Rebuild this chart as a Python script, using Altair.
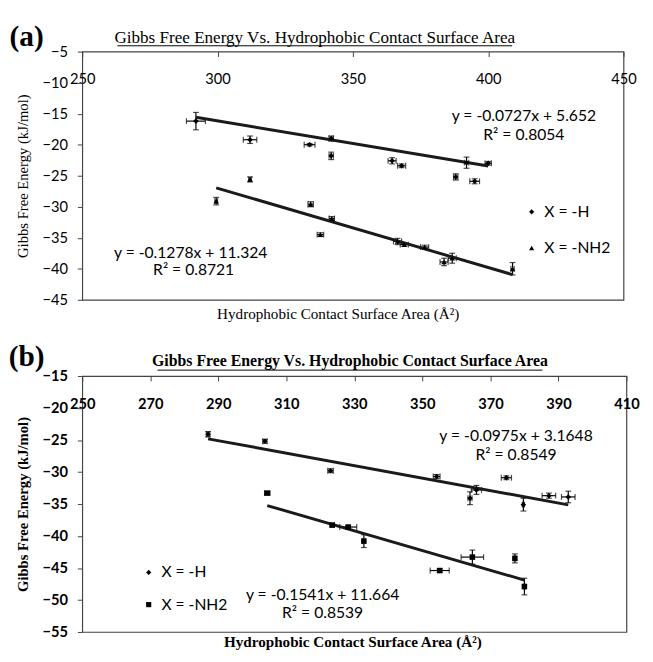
import altair as alt
import pandas as pd

SERIES = ["X = -H", "X = -NH2"]

# ---------------- panel (a) ----------------
a_h_x = [292, 312, 334, 342, 342, 364.5, 368, 392, 388, 400, 395]
a_h_y = [-16.2, -19.2, -20.0, -19.0, -21.8, -22.6, -23.4, -22.9, -25.2, -23.0, -25.9]
a_h_xerr = [3.5, 2.5, 2.0, 0.8, 0.8, 1.5, 1.5, 0.8, 0.8, 1.2, 1.8]
a_h_yerr = [1.4, 0.6, 0.2, 0.4, 0.6, 0.5, 0.3, 0.9, 0.5, 0.3, 0.4]

a_n_x = [299.5, 312, 334.4, 338, 342.2, 366.5, 369, 376.5, 383.7, 386.7, 409]
a_n_y = [-29.1, -25.6, -29.6, -34.5, -31.9, -35.6, -36.1, -36.5, -38.9, -38.3, -40.0]
a_n_xerr = [0.5, 0.5, 1.0, 1.2, 1.0, 1.5, 1.5, 1.5, 1.5, 1.5, 0.6]
a_n_yerr = [0.6, 0.4, 0.4, 0.3, 0.3, 0.5, 0.3, 0.3, 0.6, 0.8, 1.0]

a_slopes = [-0.0727, -0.1278]
a_intercepts = [5.652, 11.324]
a_eq = ["y = -0.0727x + 5.652", "y = -0.1278x + 11.324"]
a_r2 = ["R² = 0.8054", "R² = 0.8721"]
a_xticks = [250, 300, 350, 400, 450]
a_yticks = [-45, -40, -35, -30, -25, -20, -15, -10, -5]

# ---------------- panel (b) ----------------
b_h_x = [287, 303.7, 323, 354.2, 364, 365.9, 374.7, 379.7, 387.2, 392.9]
b_h_y = [-24.1, -25.2, -29.8, -30.7, -34.1, -32.8, -30.9, -35.1, -33.7, -33.9]
b_h_xerr = [0.5, 0.6, 0.8, 1.0, 0.6, 1.5, 1.5, 0.3, 2.0, 2.0]
b_h_yerr = [0.4, 0.3, 0.3, 0.3, 1.0, 0.7, 0.3, 1.0, 0.4, 0.9]

b_n_x = [304.4, 323.5, 328.2, 332.8, 355.1, 364.7, 377.2, 380]
b_n_y = [-33.3, -38.3, -38.6, -40.8, -45.4, -43.3, -43.5, -47.9]
b_n_xerr = [0.8, 0.6, 2.5, 0.4, 2.8, 3.3, 0.3, 0.3]
b_n_yerr = [0.2, 0.2, 0.2, 1.0, 0.3, 1.1, 0.7, 1.3]

b_slopes = [-0.0975, -0.1541]
b_intercepts = [3.1648, 11.664]
b_eq = ["y = -0.0975x + 3.1648", "y = -0.1541x + 11.664"]
b_r2 = ["R² = 0.8549", "R² = 0.8539"]
b_xticks = [250, 270, 290, 310, 330, 350, 370, 390, 410]
b_yticks = [-55, -50, -45, -40, -35, -30, -25, -20, -15]

TITLE = "Gibbs Free Energy  Vs. Hydrophobic Contact Surface Area"
XTITLE = "Hydrophobic Contact Surface Area (Å²)"
YTITLE = "Gibbs Free Energy (kJ/mol)"

SANS = "Lato"
SERIF = "Liberation Serif"


def build_df(hx, hy, hxe, hye, nx, ny, nxe, nye):
    rows = []
    for s, xs, ys, xe, ye in [(SERIES[0], hx, hy, hxe, hye), (SERIES[1], nx, ny, nxe, nye)]:
        for x, y, dx, dy in zip(xs, ys, xe, ye):
            rows.append(dict(series=s, x=x, y=y, xlo=x - dx, xhi=x + dx, ylo=y - dy, yhi=y + dy))
    return pd.DataFrame(rows)


def trend_df(df, slopes, intercepts):
    rows = []
    for s, m, b in zip(SERIES, slopes, intercepts):
        sub = df[df.series == s]
        for x in (sub.x.min(), sub.x.max()):
            rows.append(dict(series=s, x=x, y=m * x + b))
    return pd.DataFrame(rows)


ONE = pd.DataFrame({"k": [0]})


def label(text, x, y, size, font, weight="normal", align="center", baseline="alphabetic"):
    return alt.Chart(ONE).mark_text(
        text=text, fontSize=size, font=font, fontWeight=weight, align=align,
        baseline=baseline, color="black").encode(x=alt.value(x), y=alt.value(y))


def panel(df, tr, W, H, xdom, xvals, ydom, yvals, shapes, bold, letter, letter_y, title_x, title_y,
          title_size, ul, eqs, legend_xy, legend_pad, xtitle_xy, top_guard=None):
    wt = "bold" if bold else "normal"
    xs = alt.Scale(domain=xdom, nice=False, zero=False)
    ys = alt.Scale(domain=ydom, nice=False, zero=False)
    xaxis = alt.Axis(orient="bottom", offset=-H, values=xvals, tickSize=5, labelPadding=16,
                     domain=False, grid=False, title=None, labelFont=SANS, labelFontSize=15,
                     labelFontWeight=wt, labelColor="black", tickColor="#444",
                     labelFlush=False, labelOverlap=False)
    yaxis = alt.Axis(values=yvals, tickSize=5, labelPadding=10, domain=False, grid=False,
                     title=YTITLE, titleFont=SERIF, titleFontSize=15, titleFontWeight=wt,
                     titleColor="black", titlePadding=12,
                     labelFont=SANS, labelFontSize=15, labelFontWeight=wt,
                     labelColor="black", tickColor="#444")
    base = alt.Chart(df)
    X = lambda f: alt.X(f, type="quantitative", scale=xs, axis=xaxis)
    Y = lambda f: alt.Y(f, type="quantitative", scale=ys, axis=yaxis)
    xbar = base.mark_rule(color="black", strokeWidth=1.2).encode(x=X("xlo"), x2="xhi", y=Y("y"))
    ybar = base.mark_rule(color="black", strokeWidth=1.2).encode(x=X("x"), y=Y("ylo"), y2="yhi")
    xcap1 = base.mark_tick(color="black", orient="vertical", size=6, thickness=1.2).encode(x=X("xlo"), y=Y("y"))
    xcap2 = base.mark_tick(color="black", orient="vertical", size=6, thickness=1.2).encode(x=X("xhi"), y=Y("y"))
    ycap1 = base.mark_tick(color="black", orient="horizontal", size=6, thickness=1.2).encode(x=X("x"), y=Y("ylo"))
    ycap2 = base.mark_tick(color="black", orient="horizontal", size=6, thickness=1.2).encode(x=X("x"), y=Y("yhi"))
    trend = alt.Chart(tr).mark_line(color="#1a1a1a", strokeWidth=3).encode(
        x=X("x"), y=Y("y"), detail="series:N")
    pts = base.mark_point(filled=True, color="black", opacity=1, size=32).encode(
        x=X("x"), y=Y("y"),
        shape=alt.Shape("series:N", scale=alt.Scale(domain=SERIES, range=shapes),
                        legend=alt.Legend(orient="none", legendX=legend_xy[0], legendY=legend_xy[1],
                                          title=None, labelFont=SANS, labelFontSize=16,
                                          labelColor="black", symbolSize=28,
                                          symbolFillColor="black", symbolStrokeColor="black",
                                          rowPadding=legend_pad, labelOffset=5)))
    layers = [xbar, ybar, xcap1, xcap2, ycap1, ycap2, trend, pts]
    layers.append(label(letter, -57, letter_y, 30, SERIF, "bold"))
    layers.append(label(TITLE, title_x, title_y, title_size, SERIF, wt))
    layers.append(alt.Chart(ONE).mark_rule(color="black", strokeWidth=1).encode(
        x=alt.value(ul[0]), x2=alt.value(ul[1]), y=alt.value(ul[2])))
    if top_guard is not None:
        layers.append(alt.Chart(ONE).mark_rule(opacity=0, strokeWidth=1).encode(
            x=alt.value(0), x2=alt.value(10), y=alt.value(top_guard)))
    for text, (ex, ey) in eqs:
        layers.append(label(text, ex, ey, 16, SANS))
    layers.append(label(XTITLE, xtitle_xy[0], xtitle_xy[1], 15.5, SERIF, wt, baseline="middle"))
    return alt.layer(*layers).properties(width=W, height=H)


dfa = build_df(a_h_x, a_h_y, a_h_xerr, a_h_yerr, a_n_x, a_n_y, a_n_xerr, a_n_yerr)
dfb = build_df(b_h_x, b_h_y, b_h_xerr, b_h_yerr, b_n_x, b_n_y, b_n_xerr, b_n_yerr)

pa = panel(dfa, trend_df(dfa, a_slopes, a_intercepts), 554, 254, [250, 450], a_xticks,
           [-45, -5], a_yticks, ["diamond", "triangle-up"], False, "(a)", -6,
           238, -9, 17.5, (36, 440, -6),
           [(a_eq[0], (452, 71)), (a_r2[0], (452, 90)),
            (a_eq[1], (111, 211)), (a_r2[1], (114, 229))],
           (452, 156), 21, (262, 269), top_guard=-36)

pb = panel(dfb, trend_df(dfb, b_slopes, b_intercepts), 557, 262, [250, 410], b_xticks,
           [-55, -15], b_yticks, ["diamond", "square"], True, "(b)", -10,
           274, -10, 16.2, (77, 471, -6),
           [(b_eq[0], (444, 67)), (b_r2[0], (444, 86)),
            (b_eq[1], (246, 229)), (b_r2[1], (246, 248))],
           (60, 193), 17, (277, 272))

chart = alt.vconcat(pa, pb, spacing=78, bounds="flush").resolve_scale(
    x="independent", y="independent", shape="independent"
).resolve_legend(shape="independent").configure_view(
    stroke="#444", strokeWidth=1.2
).properties(padding={"left": 0, "top": 0, "right": 5, "bottom": 0}, background="white")

chart.save("out.html", embed_options={"renderer": "svg", "actions": False})
